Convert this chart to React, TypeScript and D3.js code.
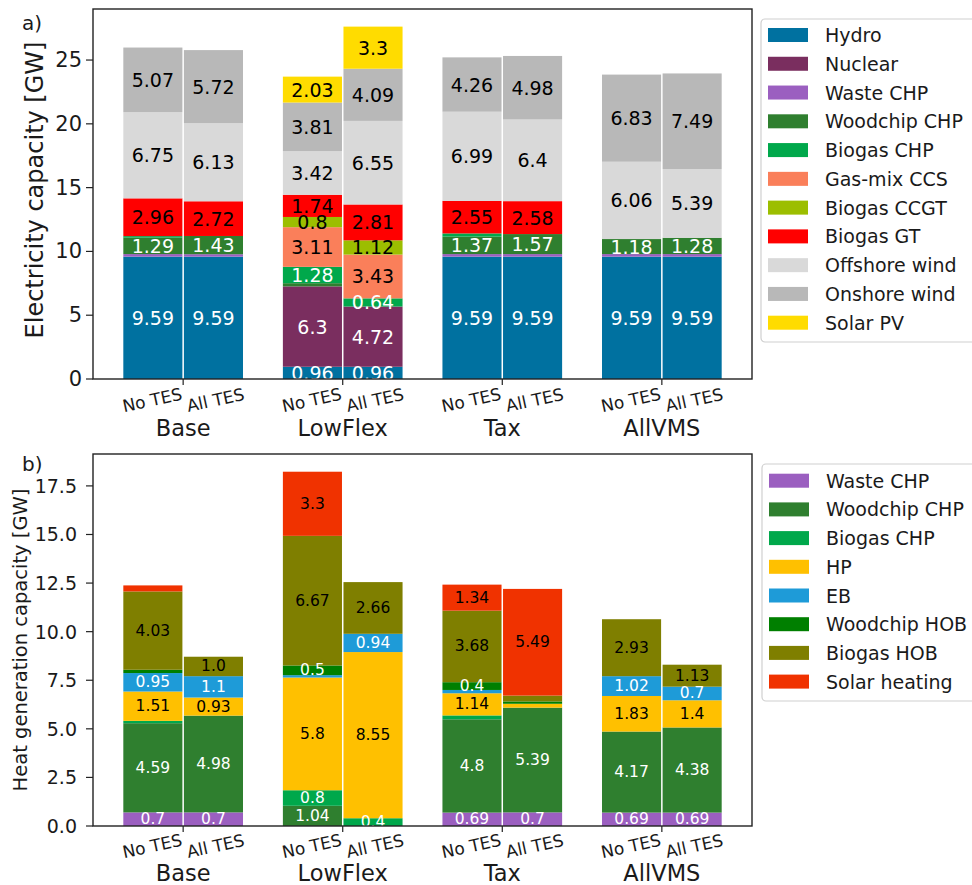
import React from "react";
import * as d3 from "d3";

// ---------- DATA ----------
const scenarios = ["Base", "LowFlex", "Tax", "AllVMS"];
const variants = ["No TES", "All TES"];

// order of bars: Base NoTES, Base AllTES, LowFlex NoTES, LowFlex AllTES, Tax NoTES, Tax AllTES, AllVMS NoTES, AllVMS AllTES
const elecTechs = ["Hydro", "Nuclear", "Waste CHP", "Woodchip CHP", "Biogas CHP", "Gas-mix CCS", "Biogas CCGT", "Biogas GT", "Offshore wind", "Onshore wind", "Solar PV"];
const elecColors = ["#0071a0", "#7a2e5f", "#9b5fc0", "#2f7f2f", "#00a84b", "#fa7f5a", "#9cbe00", "#ff0000", "#d9d9d9", "#b8b8b8", "#ffdc00"];
const hydro = [9.59, 9.59, 0.96, 0.96, 9.59, 9.59, 9.59, 9.59];
const nuclear = [0, 0, 6.3, 4.72, 0, 0, 0, 0];
const wasteChpElec = [0.2, 0.19, 0, 0, 0.2, 0.2, 0.2, 0.2];
const woodchipChpElec = [1.29, 1.43, 0.25, 0, 1.37, 1.57, 1.18, 1.28];
const biogasChpElec = [0.12, 0, 1.28, 0.64, 0.25, 0, 0, 0];
const gasMixCcs = [0, 0, 3.11, 3.43, 0, 0, 0, 0];
const biogasCcgt = [0, 0, 0.8, 1.12, 0, 0, 0, 0];
const biogasGt = [2.96, 2.72, 1.74, 2.81, 2.55, 2.58, 0, 0];
const offshoreWind = [6.75, 6.13, 3.42, 6.55, 6.99, 6.4, 6.06, 5.39];
const onshoreWind = [5.07, 5.72, 3.81, 4.09, 4.26, 4.98, 6.83, 7.49];
const solarPv = [0, 0, 2.03, 3.3, 0, 0, 0, 0];
const elecSeries = [hydro, nuclear, wasteChpElec, woodchipChpElec, biogasChpElec, gasMixCcs, biogasCcgt, biogasGt, offshoreWind, onshoreWind, solarPv];

const heatTechs = ["Waste CHP", "Woodchip CHP", "Biogas CHP", "HP", "EB", "Woodchip HOB", "Biogas HOB", "Solar heating"];
const heatColors = ["#9b5fc0", "#2f7f2f", "#00a84b", "#ffc000", "#1e9bd8", "#007f00", "#7f7f00", "#f03200"];
const wasteChpHeat = [0.7, 0.7, 0, 0, 0.69, 0.7, 0.69, 0.69];
const woodchipChpHeat = [4.59, 4.98, 1.04, 0, 4.8, 5.39, 4.17, 4.38];
const biogasChpHeat = [0.12, 0, 0.8, 0.4, 0.2, 0, 0, 0];
const heatPump = [1.51, 0.93, 5.8, 8.55, 1.14, 0.2, 1.83, 1.4];
const electricBoiler = [0.95, 1.1, 0.12, 0.94, 0.17, 0, 1.02, 0.7];
const woodchipHob = [0.17, 0, 0.5, 0, 0.4, 0.12, 0, 0];
const biogasHob = [4.03, 1.0, 6.67, 2.66, 3.68, 0.3, 2.93, 1.13];
const solarHeating = [0.31, 0, 3.3, 0, 1.34, 5.49, 0, 0];
const heatSeries = [wasteChpHeat, woodchipChpHeat, biogasChpHeat, heatPump, electricBoiler, woodchipHob, biogasHob, solarHeating];

const elecTicks = [0, 5, 10, 15, 20, 25];
const heatTicks = [0, 2.5, 5, 7.5, 10, 12.5, 15, 17.5];

const whiteLabelTechs = ["Hydro", "Nuclear", "Waste CHP", "Woodchip CHP", "Biogas CHP", "EB", "Woodchip HOB"];

const FONT = "DejaVu Sans, Verdana, sans-serif";

function fmt(v: number) {
  return Number.isInteger(v) ? v.toFixed(1) : String(v);
}

type PanelProps = {
  top: number;
  bottom: number;
  techs: string[];
  colors: string[];
  series: number[][];
  ticks: number[];
  tickFmt: (v: number) => string;
  tickFont: number;
  tickLabelRight: number;
  valueFont: number;
  yLabel: string;
  yLabelFont: number;
  yLabelX: number;
  yLabelY: number;
  panelTag: string;
  tagY: number;
  xLabelOffset: number;
  groupLabelOffset: number;
};

function Panel(p: PanelProps) {
  const left = 93;
  const right = 752;
  const x = d3.scaleLinear().domain([-0.565, 3.565]).range([left, right]);
  const nBars = scenarios.length * variants.length;
  const totals = d3.range(nBars).map((i) => d3.sum(p.series, (s) => s[i]));
  const yMax = (d3.max(totals) || 1) * 1.05;
  const y = d3.scaleLinear().domain([0, yMax]).range([p.bottom, p.top]);
  const bw = 0.375;

  const rects: React.ReactNode[] = [];
  const labels: React.ReactNode[] = [];
  for (let i = 0; i < nBars; i++) {
    const g = Math.floor(i / 2);
    const v = i % 2;
    const x0 = v === 0 ? x(g - bw) : x(g) + 0.75;
    const x1 = v === 0 ? x(g) - 0.75 : x(g + bw);
    let cum = 0;
    p.series.forEach((s, k) => {
      const val = s[i];
      if (val <= 0) return;
      const y0 = y(cum);
      const y1 = y(cum + val);
      rects.push(
        <rect key={`r${i}-${k}`} x={x0} y={y1} width={x1 - x0} height={y0 - y1} fill={p.colors[k]} />
      );
      if (val >= 0.35) {
        labels.push(
          <text
            key={`t${i}-${k}`}
            x={(x0 + x1) / 2}
            y={(y0 + y1) / 2}
            textAnchor="middle"
            dominantBaseline="central"
            fontSize={p.valueFont}
            fontFamily={FONT}
            fill={whiteLabelTechs.includes(p.techs[k]) ? "#ffffff" : "#000000"}
          >
            {fmt(val)}
          </text>
        );
      }
      cum += val;
    });
  }

  return (
    <g>
      {rects}
      {labels}
      {/* frame */}
      <rect x={left} y={p.top} width={right - left} height={p.bottom - p.top} fill="none" stroke="#222" strokeWidth={1.4} />
      {/* y ticks */}
      {p.ticks.map((t) => (
        <g key={`yt${t}`}>
          <line x1={left - 7} x2={left} y1={y(t)} y2={y(t)} stroke="#222" strokeWidth={1.2} />
          <text x={p.tickLabelRight} y={y(t)} textAnchor="end" dominantBaseline="central" fontSize={p.tickFont} fontFamily={FONT} fill="#1a1a1a">
            {p.tickFmt(t)}
          </text>
        </g>
      ))}
      {/* x ticks and labels */}
      {scenarios.map((s, g) => (
        <g key={`xg${s}`}>
          <line x1={x(g)} x2={x(g)} y1={p.bottom} y2={p.bottom + 6} stroke="#222" strokeWidth={1.2} />
          {variants.map((vn, v) => {
            const cx = x(g + (v === 0 ? -bw / 2 : bw / 2)) + (v === 0 ? -1 : 2.5);
            const cy = p.bottom + p.xLabelOffset;
            return (
              <text
                key={`xl${s}${vn}`}
                x={cx}
                y={cy}
                textAnchor="middle"
                dominantBaseline="central"
                fontSize={17}
                fontFamily={FONT}
                fill="#1a1a1a"
                transform={`rotate(-12, ${cx}, ${cy})`}
              >
                {vn}
              </text>
            );
          })}
          <text x={x(g)} y={p.bottom + p.groupLabelOffset} textAnchor="middle" fontSize={22.5} fontFamily={FONT} fill="#1a1a1a">
            {s}
          </text>
        </g>
      ))}
      {/* y label */}
      <text
        x={p.yLabelX}
        y={p.yLabelY}
        textAnchor="middle"
        dominantBaseline="central"
        fontSize={p.yLabelFont}
        fontFamily={FONT}
        fill="#1a1a1a"
        transform={`rotate(-90, ${p.yLabelX}, ${p.yLabelY})`}
      >
        {p.yLabel}
      </text>
      <text x={22} y={p.tagY} fontSize={20} fontFamily={FONT} fill="#1a1a1a">
        {p.panelTag}
      </text>
    </g>
  );
}

type LegendProps = { x: number; y: number; height: number; firstY: number; step: number; techs: string[]; colors: string[] };

function Legend(l: LegendProps) {
  return (
    <g>
      <rect x={l.x} y={l.y} width={260} height={l.height} rx={4} ry={4} fill="#ffffff" stroke="#d0d0d0" strokeWidth={1.2} />
      {l.techs.map((t, i) => {
        const cy = l.firstY + i * l.step;
        return (
          <g key={`lg${t}`}>
            <rect x={l.x + 7} y={cy - 7} width={40} height={14} fill={l.colors[i]} />
            <text x={l.x + 64} y={cy} dominantBaseline="central" fontSize={19} fontFamily={FONT} fill="#1a1a1a">
              {t}
            </text>
          </g>
        );
      })}
    </g>
  );
}

export default function App() {
  return (
    <svg width={972} height={885} style={{ position: "absolute", left: 0, top: 0, background: "#ffffff" }}>
      <rect x={0} y={0} width={972} height={885} fill="#ffffff" />
      <Panel
        top={9}
        bottom={379}
        techs={elecTechs}
        colors={elecColors}
        series={elecSeries}
        ticks={elecTicks}
        tickFmt={(v) => String(v)}
        tickFont={21}
        tickLabelRight={82}
        valueFont={19}
        yLabel="Electricity capacity [GW]"
        yLabelFont={24}
        yLabelX={35}
        yLabelY={190}
        panelTag="a)"
        tagY={30}
        xLabelOffset={21}
        groupLabelOffset={57}
      />
      <Panel
        top={454}
        bottom={826}
        techs={heatTechs}
        colors={heatColors}
        series={heatSeries}
        ticks={heatTicks}
        tickFmt={(v) => v.toFixed(1)}
        tickFont={19}
        tickLabelRight={77}
        valueFont={15.5}
        yLabel="Heat generation capacity [GW]"
        yLabelFont={19.5}
        yLabelX={20}
        yLabelY={640}
        panelTag="b)"
        tagY={471}
        xLabelOffset={20}
        groupLabelOffset={55}
      />
      <Legend x={761} y={19} height={323} firstY={35} step={28.77} techs={elecTechs} colors={elecColors} />
      <Legend x={762} y={464} height={237} firstY={480.7} step={28.7} techs={heatTechs} colors={heatColors} />
    </svg>
  );
}
